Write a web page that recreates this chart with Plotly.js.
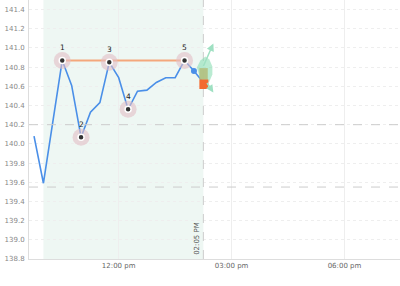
<!DOCTYPE html>
<html>
<head>
<meta charset="utf-8">
<script src="https://cdn.plot.ly/plotly-3.0.1.min.js"></script>
<style>html,body{margin:0;padding:0;background:#fff;}#chart{width:400px;height:286px;}</style>
</head>
<body>
<div id="chart"></div>
<script>
const DAY = '2024-01-15 ';
const times = ['09:45','10:00','10:30','10:45','11:00','11:15','11:30','11:45','12:00','12:15','12:30','12:45','13:00','13:15','13:30','13:45','14:00','14:15'];
const prices = [140.08,139.59,140.87,140.61,140.07,140.33,140.43,140.85,140.69,140.36,140.55,140.56,140.64,140.69,140.69,140.87,140.76,140.64];
const patternIdx = [2,4,7,9,15];
const patternLabels = ['1','2','3','4','5'];
const projIdx = 16;
const levels = [140.2, 139.55];
const zoneStart = '10:00';
const zoneEnd = '14:15';
const zoneLabel = '02:05 PM';
const tickTimes = ['12:00','15:00','18:00'];
const tickText = ['12:00 pm','03:00 pm','06:00 pm'];
const xRange = ['09:37:00','19:28:30'];
const yRange = [138.8, 141.5];
const yTicks = [138.8,139.0,139.2,139.4,139.6,139.8,140.0,140.2,140.4,140.6,140.8,141.0,141.2,141.4];

const X = times.map(t => DAY + t);
const px = patternIdx.map(i => X[i]);
const py = patternIdx.map(i => prices[i]);
const lastX = X[X.length-1], lastY = prices[prices.length-1];

const traces = [
  {x:[px[0], px[px.length-1]], y:[py[0], py[0]], mode:'lines', line:{color:'#f4a77c', width:2}, hoverinfo:'skip'},
  {x:X, y:prices, mode:'lines', line:{color:'#4a8fe8', width:1.6}, hoverinfo:'skip'},
  {x:px, y:py, mode:'markers', marker:{size:17, color:'rgba(226,190,198,0.6)'}, hoverinfo:'skip'},
  {x:px, y:py, mode:'markers', marker:{size:6, color:'#333', line:{color:'#fff', width:1.5}}, hoverinfo:'skip'},
  {x:[X[projIdx]], y:[prices[projIdx]], mode:'markers', marker:{size:6, color:'#4a8fe8'}, hoverinfo:'skip'}
];

const shapes = [
  {type:'rect', xref:'x', yref:'paper', x0:DAY+zoneStart, x1:DAY+zoneEnd, y0:0, y1:1, fillcolor:'#eef7f3', line:{width:0}, layer:'below'},
  {type:'line', xref:'x', yref:'paper', x0:DAY+zoneEnd, x1:DAY+zoneEnd, y0:0, y1:1, line:{color:'#cccccc', width:1, dash:'dash'}},
];
levels.forEach(v => shapes.push({type:'line', xref:'paper', yref:'y', x0:0, x1:1, y0:v, y1:v, line:{color:'#cccccc', width:1, dash:'dash'}}));
// pattern projection decoration anchored at last point (pixel offsets)
shapes.push({type:'path', xref:'x', yref:'y', xsizemode:'pixel', ysizemode:'pixel', xanchor:lastX, yanchor:lastY,
  path:'M -6.5,15 L -3,22 L 2,26 L 6,23 L 9,16 L 9,8 L 6,1 L 2,-2 L -3,4 Z', fillcolor:'rgba(140,222,180,0.6)', line:{width:0}});
shapes.push({type:'rect', xref:'x', yref:'y', xsizemode:'pixel', ysizemode:'pixel', xanchor:lastX, yanchor:lastY,
  x0:-4, x1:4.4, y0:2.7, y1:14.4, fillcolor:'rgba(178,192,128,0.9)', line:{width:0}});
shapes.push({type:'path', xref:'x', yref:'y', xsizemode:'pixel', ysizemode:'pixel', xanchor:lastX, yanchor:lastY,
  path:'M -4,3 L 5,3 L 5,-6.5 L -4,-6.5 Z', fillcolor:'#f26a2e', line:{width:0}});

const annotations = patternIdx.map((i,k) => ({x:X[i], y:prices[i], text:patternLabels[k], showarrow:false, yshift:13,
  font:{family:'DejaVu Sans', size:7.5, color:'#222'}}));
annotations.push({x:DAY+zoneEnd, y:yRange[0], xref:'x', yref:'y', text:zoneLabel, textangle:-90, showarrow:false,
  xanchor:'right', yanchor:'bottom', xshift:-1, yshift:2, font:{family:'DejaVu Sans', size:7, color:'#555'}});
annotations.push({x:lastX, y:lastY, xshift:10, yshift:39, ax:-10.6, ay:24, showarrow:true, arrowhead:2, arrowsize:1, arrowwidth:1.5, arrowcolor:'#9fe0c2', text:''});
annotations.push({x:lastX, y:lastY, xshift:10, yshift:-10, ax:-7.3, ay:-11, showarrow:true, arrowhead:2, arrowsize:1, arrowwidth:1.5, arrowcolor:'#9fe0c2', text:''});

const layout = {
  width:400, height:286,
  margin:{l:29, r:0, t:0, b:27, pad:0},
  paper_bgcolor:'#fff', plot_bgcolor:'#fff',
  showlegend:false,
  font:{family:'DejaVu Sans', size:7, color:'#888'},
  xaxis:{type:'date', range:xRange.map(t=>DAY+t), tickvals:tickTimes.map(t=>DAY+t), ticktext:tickText,
    showgrid:true, gridcolor:'#eeeeee', gridwidth:1, showline:true, linecolor:'#dddddd', linewidth:1, ticks:'', zeroline:false,
    tickfont:{family:'DejaVu Sans', size:7, color:'#666'}},
  yaxis:{range:yRange, tickvals:yTicks, ticktext:yTicks.map(v=>v.toFixed(1)), showgrid:true, gridcolor:'#eeeeee', griddash:'dot',
    showline:true, linecolor:'#dddddd', linewidth:1, ticks:'', zeroline:false, ticklabelstandoff:2,
    tickfont:{family:'DejaVu Sans', size:7, color:'#888'}},
  shapes:shapes,
  annotations:annotations
};
Plotly.newPlot('chart', traces, layout, {staticPlot:true, displayModeBar:false});
</script>
</body>
</html>
